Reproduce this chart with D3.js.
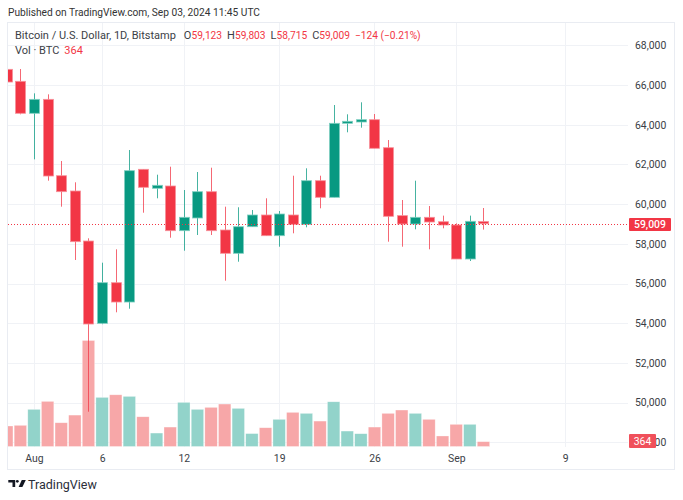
<!DOCTYPE html>
<html lang="en">
  <head>
    <meta charset="UTF-8" />
    <title>BTCUSD 1D</title>
    <script src="https://cdn.jsdelivr.net/npm/d3@7"></script>
    <style>
      body { margin: 0; background: #fff; }
      text { font-family: Roboto, "Liberation Sans", sans-serif; }
    </style>
  </head>
  <body>
    <svg id="svg" width="683" height="500"></svg>
    <script>
      // daily candles, Jul 30 .. Sep 3 2024
      const firstDay = new Date(2024, 6, 30);
      const opens = [66790, 66186, 64574, 65278, 61430, 60660, 58140, 53994, 56040, 55067,
        61753, 60796, 60912, 58660, 59300, 60625, 58695, 57521, 58861, 59451,
        58408, 59451, 58982, 61179, 60342, 64070, 64136, 64252, 62841, 59419,
        58997, 59335, 59113, 58947, 57234, 59123];
      const highs = [66950, 66806, 65580, 65530, 62171, 61098, 58277, 57048, 57722, 62725,
        61753, 61481, 61884, 60710, 61617, 61834, 59870, 59840, 59702, 60292,
        59652, 61430, 61803, 61430, 64992, 64524, 65128, 64539, 63229, 60206,
        61179, 59904, 59419, 59030, 59419, 59803];
      const lows = [66100, 64524, 62255, 61180, 59870, 57184, 49541, 53950, 54549, 54730,
        59566, 60292, 58307, 57652, 58443, 58443, 56141, 57098, 58850, 58400,
        57853, 58529, 58831, 59788, 60342, 63617, 63849, 62811, 58106, 57853,
        58730, 57723, 58780, 57234, 57133, 58715];
      const closes = [66150, 64574, 65278, 61415, 60625, 58106, 53959, 56040, 55067, 61683,
        60846, 60947, 58660, 59335, 60625, 58660, 57521, 58861, 59451, 58408,
        59501, 58982, 61179, 60342, 64070, 64171, 64252, 62811, 59385, 58997,
        59335, 59098, 58947, 57234, 59133, 59009];
      const volumes = [1540, 1590, 2790, 3390, 1785, 2360, 7965, 3690, 3885, 3765,
        2235, 1010, 1460, 3315, 2790, 2940, 3190, 2865, 970, 1410,
        2040, 2565, 2490, 1910, 3360, 1160, 960, 1460, 2490, 2740,
        2490, 2040, 790, 1665, 1665, 364];
      const priceTicks = d3.range(48000, 68001, 2000);
      const timeTicks = [new Date(2024, 7, 1), new Date(2024, 7, 6), new Date(2024, 7, 12),
        new Date(2024, 7, 19), new Date(2024, 7, 26), new Date(2024, 8, 1), new Date(2024, 8, 9)];

      const days = d3.timeDay.range(firstDay, d3.timeDay.offset(firstDay, opens.length));
      const candles = days.map((d, i) => ({
        date: d, o: opens[i], h: highs[i], l: lows[i], c: closes[i], v: volumes[i]
      }));

      const upColor = "#089981";
      const downColor = "#f23645";
      const upVol = "#92d3ca";
      const downVol = "#f7a7a8";

      const plotLeft = 8, plotRight = 628, plotTop = 23, plotBottom = 447;

      const x = d3.scaleTime()
        .domain([new Date(2024, 7, 1), new Date(2024, 8, 9)])
        .range([34, 34 + 39 * 13.62]);
      const y = d3.scaleLinear().domain([48000, 68000]).range([442.3, 45.3]);
      const yVol = d3.scaleLinear()
        .domain([0, d3.max(volumes)])
        .range([446.5, 340.5]);

      const svg = d3.select("#svg");
      svg.append("rect").attr("width", 683).attr("height", 500).attr("fill", "#fff");

      svg.append("defs").append("clipPath").attr("id", "plot")
        .append("rect")
        .attr("x", plotLeft).attr("y", plotTop)
        .attr("width", plotRight - plotLeft).attr("height", plotBottom - plotTop);

      // frame
      svg.append("rect")
        .attr("x", 7.5).attr("y", 22.5).attr("width", 667).attr("height", 447)
        .attr("fill", "none").attr("stroke", "#e9ecf2");

      // grid
      const grid = svg.append("g").attr("clip-path", "url(#plot)");
      grid.selectAll(".hg").data(priceTicks).enter().append("line")
        .attr("x1", plotLeft).attr("x2", plotRight)
        .attr("y1", d => Math.round(y(d)) + 0.5).attr("y2", d => Math.round(y(d)) + 0.5)
        .attr("stroke", "#f0f2f6");
      grid.selectAll(".vg").data(timeTicks).enter().append("line")
        .attr("x1", d => Math.round(x(d)) + 0.5).attr("x2", d => Math.round(x(d)) + 0.5)
        .attr("y1", plotTop).attr("y2", plotBottom)
        .attr("stroke", "#f0f2f6");

      const plot = svg.append("g").attr("clip-path", "url(#plot)");

      // volume
      plot.selectAll(".vol").data(candles).enter().append("rect")
        .attr("x", d => x(d.date) - 6.2)
        .attr("width", 12.4)
        .attr("y", d => yVol(d.v))
        .attr("height", d => yVol(0) - yVol(d.v))
        .attr("fill", d => (d.c >= d.o ? upVol : downVol))
        .attr("stroke", "#fff")
        .attr("stroke-opacity", 0.5)
        .attr("stroke-width", 0.6);

      // wicks
      plot.selectAll(".wick").data(candles).enter().append("line")
        .attr("x1", d => Math.round(x(d.date)) + 0.5)
        .attr("x2", d => Math.round(x(d.date)) + 0.5)
        .attr("y1", d => y(d.h))
        .attr("y2", d => y(d.l))
        .attr("stroke", d => (d.c >= d.o ? upColor : downColor))
        .attr("stroke-opacity", 0.75);

      // bodies
      plot.selectAll(".body").data(candles).enter().append("rect")
        .attr("x", d => Math.round(x(d.date)) - 4.5)
        .attr("width", 10)
        .attr("y", d => y(Math.max(d.o, d.c)))
        .attr("height", d => Math.max(1.5, Math.abs(y(d.o) - y(d.c))))
        .attr("fill", d => (d.c >= d.o ? upColor : downColor))
        .attr("stroke", d => (d.c >= d.o ? "#7fcfc1" : "#f7919a"))
        .attr("stroke-width", 0.8);

      // last price line
      const last = candles[candles.length - 1];
      const prev = candles[candles.length - 2];
      plot.append("line")
        .attr("x1", plotLeft).attr("x2", plotRight)
        .attr("y1", Math.round(y(last.c)) + 0.5).attr("y2", Math.round(y(last.c)) + 0.5)
        .attr("stroke", downColor)
        .attr("stroke-dasharray", "1,2");

      // price axis
      const yAxis = svg.append("g")
        .attr("transform", `translate(${plotRight},0)`)
        .call(d3.axisRight(y).tickValues(priceTicks).tickFormat(d3.format(",")).tickSize(0).tickPadding(7));
      yAxis.select(".domain").remove();
      yAxis.selectAll("text").attr("fill", "#3b3e46").style("font-size", "10.4px");

      // time axis
      const fmtTime = d => (d.getDate() === 1 ? d3.timeFormat("%b")(d) : d.getDate());
      const xAxis = svg.append("g")
        .attr("transform", "translate(0,452)")
        .call(d3.axisBottom(x).tickValues(timeTicks).tickFormat(fmtTime).tickSize(0).tickPadding(3));
      xAxis.select(".domain").remove();
      xAxis.selectAll("text").attr("fill", "#3b3e46").style("font-size", "10.4px");

      // price labels on the axis
      const fmt = d3.format(",");
      svg.append("rect")
        .attr("x", 629).attr("y", Math.round(y(last.c)) - 6)
        .attr("width", 42).attr("height", 13).attr("rx", 1)
        .attr("fill", downColor);
      svg.append("text")
        .attr("x", 650).attr("y", Math.round(y(last.c)) + 4)
        .attr("text-anchor", "middle").attr("fill", "#fff")
        .style("font-size", "10.4px").style("font-weight", 500)
        .text(fmt(last.c));
      svg.append("rect")
        .attr("x", 629).attr("y", Math.round(yVol(last.v)) - 8)
        .attr("width", 27).attr("height", 14).attr("rx", 1)
        .attr("fill", "#f0505b");
      svg.append("text")
        .attr("x", 642.5).attr("y", Math.round(yVol(last.v)) + 3)
        .attr("text-anchor", "middle").attr("fill", "#fff")
        .style("font-size", "10.4px")
        .text(last.v);

      // header
      svg.append("text")
        .attr("x", 8).attr("y", 16)
        .attr("fill", "#333")
        .style("font-size", "10.2px")
        .text("Published on TradingView.com, Sep 03, 2024 11:45 UTC");

      const head = svg.append("text")
        .attr("x", 15).attr("y", 39)
        .attr("fill", "#3b3e46")
        .style("font-size", "11px");
      head.append("tspan").text("Bitcoin / U.S. Dollar, 1D, Bitstamp");
      const ohlc = [["O", last.o], ["H", last.h], ["L", last.l], ["C", last.c]];
      ohlc.forEach(([k, v], i) => {
        head.append("tspan").attr("dx", i === 0 ? 8 : 5).text(k);
        head.append("tspan").attr("fill", downColor).style("font-size", "10.2px").text(fmt(v));
      });
      const chg = last.c - prev.c;
      const minus = s => s.replace("-", "\u2212");
      head.append("tspan").attr("dx", 5).attr("fill", downColor).style("font-size", "10.2px")
        .text(minus(d3.format("+")(chg)) + " (" + minus(d3.format("+.2f")(chg / prev.c * 100)) + "%)");

      const vol = svg.append("text")
        .attr("x", 15).attr("y", 54)
        .attr("fill", "#3b3e46")
        .style("font-size", "11px");
      vol.append("tspan").text("Vol \u00b7 BTC");
      vol.append("tspan").attr("dx", 5).attr("fill", downColor).text(last.v);

      // logo
      const logo = svg.append("g").attr("fill", "#131722");
      logo.append("path").attr("d", "M8.3,480 H15.2 V487 H12.5 V482.6 H8.3 Z");
      logo.append("circle").attr("cx", 17.3).attr("cy", 481.3).attr("r", 1.4);
      logo.append("path").attr("d", "M21.8,480 H25.8 L22.4,487 H18.6 Z");
      svg.append("text")
        .attr("x", 28).attr("y", 488.5)
        .attr("fill", "#2a2e39")
        .style("font-size", "12.5px")
        .text("TradingView");
    </script>
  </body>
</html>
